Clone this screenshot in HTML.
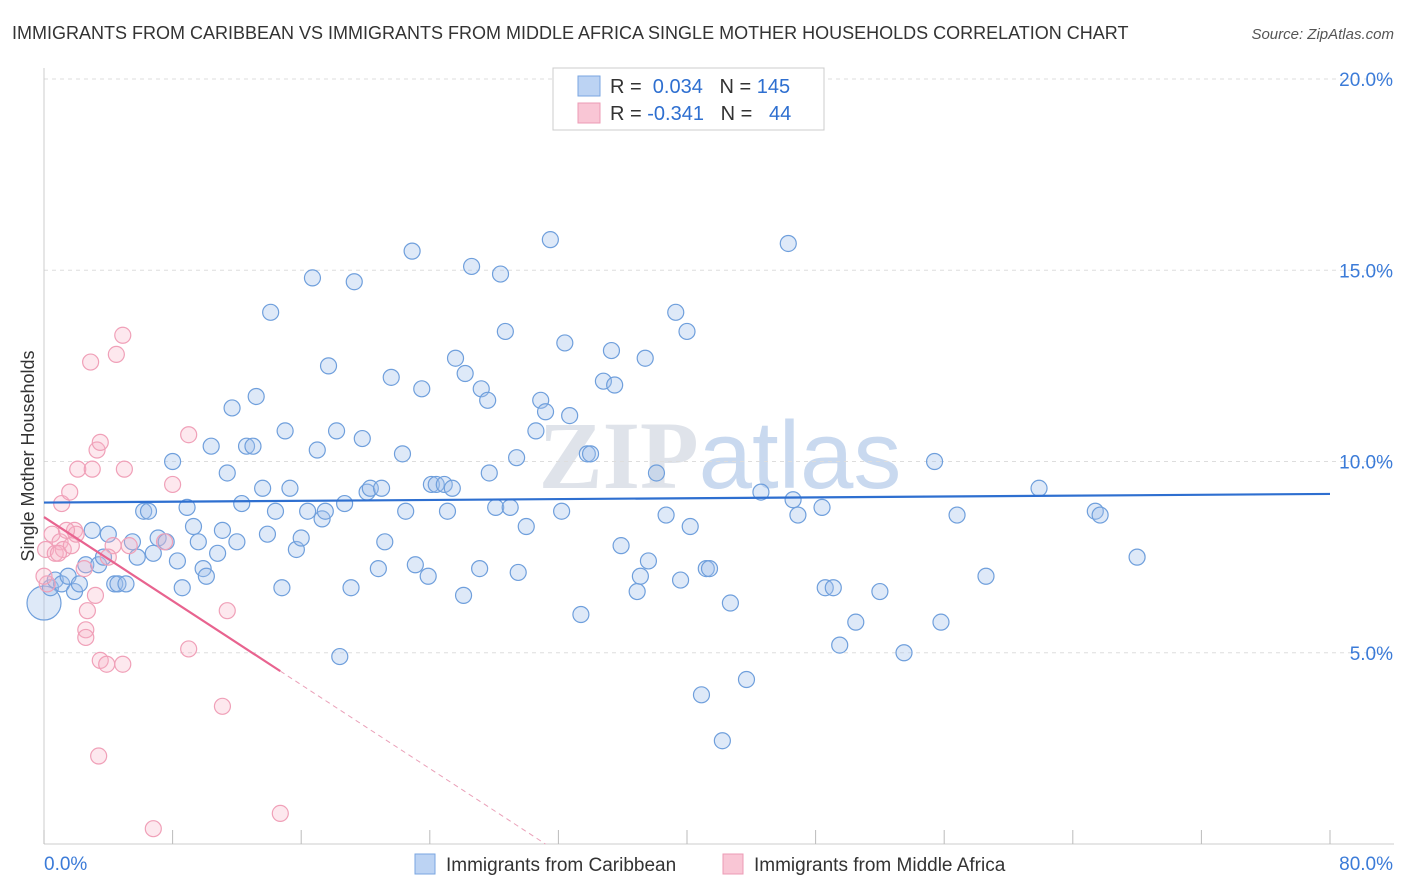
<!DOCTYPE html>
<html><head><meta charset="utf-8">
<style>
body{margin:0;background:#fff;font-family:"Liberation Sans",sans-serif;}
svg{display:block}
</style></head>
<body>
<svg width="1406" height="892" viewBox="0 0 1406 892" xmlns="http://www.w3.org/2000/svg">
<text x="12" y="39" font-size="18" fill="#333">IMMIGRANTS FROM CARIBBEAN VS IMMIGRANTS FROM MIDDLE AFRICA SINGLE MOTHER HOUSEHOLDS CORRELATION CHART</text>
<text x="1394" y="39" font-size="15" fill="#555" font-style="italic" text-anchor="end">Source: ZipAtlas.com</text>
<text x="720" y="488" font-size="96" fill="#dfe3ea" text-anchor="middle" font-family="Liberation Serif,serif" font-weight="bold">ZIP<tspan font-family="Liberation Sans,sans-serif" font-weight="normal" fill="#c9d9ef">atlas</tspan></text>
<g id="grid"></g>
<g id="axes"></g>
<g id="pts"></g>
<g id="lines"></g>
<text transform="translate(34,456) rotate(-90)" font-size="18" fill="#333" text-anchor="middle">Single Mother Households</text>
<g>
<rect x="553" y="68" width="271" height="62" fill="#fff" stroke="#ccc"/>
<rect x="578" y="76" width="22" height="20" fill="#bcd3f3" stroke="#7aa6e0"/>
<rect x="578" y="103" width="22" height="20" fill="#f9c6d5" stroke="#ec9bb5"/>
<text x="610" y="93" font-size="20" fill="#333">R = <tspan fill="#2e6fd0">&#160;0.034</tspan>&#160;&#160;&#160;N = <tspan fill="#2e6fd0">145</tspan></text>
<text x="610" y="120" font-size="20" fill="#333">R = <tspan fill="#2e6fd0">-0.341</tspan>&#160;&#160;&#160;N = <tspan fill="#2e6fd0">&#160;&#160;44</tspan></text>
</g>
<g>
<rect x="415" y="854" width="20" height="20" fill="#bcd3f3" stroke="#7aa6e0"/>
<text x="446" y="871" font-size="19" fill="#333">Immigrants from Caribbean</text>
<rect x="723" y="854" width="20" height="20" fill="#f9c6d5" stroke="#ec9bb5"/>
<text x="754" y="871" font-size="19" fill="#333">Immigrants from Middle Africa</text>
</g>
</svg>
<script>
const blueX=[0,0.4,0.7,1.1,1.5,1.9,2.2,2.6,3.0,3.4,4.0,3.7,4.4,4.6,5.1,5.5,5.8,6.2,6.5,6.8,7.1,7.6,8.0,8.3,8.6,8.9,9.3,9.6,9.9,10.1,10.4,10.8,11.1,11.4,11.7,12.0,12.3,12.6,13.0,13.2,13.6,13.9,14.1,14.4,14.8,15.0,15.3,15.7,16.0,16.4,16.7,17.0,17.3,17.5,17.7,18.2,18.4,18.7,19.1,19.3,19.8,20.1,20.3,20.8,21.0,21.2,21.6,22.3,22.5,22.9,23.1,23.5,23.9,24.1,24.4,24.9,25.1,25.4,25.6,26.1,26.2,26.6,27.1,27.2,27.6,27.7,28.1,28.4,28.7,29.0,29.4,29.5,30.0,30.6,30.9,31.2,31.5,32.2,32.4,32.7,33.4,33.8,34.0,34.8,35.3,35.5,35.9,36.9,37.1,37.4,37.6,38.1,38.7,39.3,39.6,40.0,40.2,40.9,41.2,41.4,42.2,42.7,43.7,44.6,46.3,46.6,46.9,48.4,48.6,49.1,49.5,50.5,52.0,53.5,55.4,55.8,56.8,58.6,61.9,65.4,65.7,68.0];
const blueY=[6.3,6.7,6.9,6.8,7.0,6.6,6.8,7.3,8.2,7.3,8.1,7.5,6.8,6.8,6.8,7.9,7.5,8.7,8.7,7.6,8.0,7.9,10.0,7.4,6.7,8.8,8.3,7.9,7.2,7.0,10.4,7.6,8.2,9.7,11.4,7.9,8.9,10.4,10.4,11.7,9.3,8.1,13.9,8.7,6.7,10.8,9.3,7.7,8.0,8.7,14.8,10.3,8.5,8.7,12.5,10.8,4.9,8.9,6.7,14.7,10.6,9.2,9.3,7.2,9.3,7.9,12.2,10.2,8.7,15.5,7.3,11.9,7.0,9.4,9.4,9.4,8.7,9.3,12.7,6.5,12.3,15.1,7.2,11.9,11.6,9.7,8.8,14.9,13.4,8.8,10.1,7.1,8.3,10.8,11.6,11.3,15.8,8.7,13.1,11.2,6.0,10.2,10.2,12.1,12.9,12.0,7.8,6.6,7.0,12.7,7.4,9.7,8.6,13.9,6.9,13.4,8.3,3.9,7.2,7.2,2.7,6.3,4.3,9.2,15.7,9.0,8.6,8.8,6.7,6.7,5.2,5.8,6.6,5.0,10.0,5.8,8.6,7.0,9.3,8.7,8.6,7.5];
const pinkX=[0.1,0.2,0.5,0.7,1.0,1.1,1.2,1.6,1.7,1.9,2.0,2.1,2.5,2.6,2.6,2.7,2.9,3.0,3.2,3.3,3.5,3.5,3.4,3.9,4.3,4.5,4.9,4.9,5.0,7.5,6.8,8.0,9.0,9.0,11.1,11.4,14.7,5.3,4.0,0.9,1.4,0];
const pinkY=[7.7,6.8,8.1,7.6,7.9,8.9,7.7,9.2,7.8,8.2,8.1,9.8,7.2,5.6,5.4,6.1,12.6,9.8,6.5,10.3,4.8,10.5,2.3,4.7,7.8,12.8,13.3,4.7,9.8,7.9,0.4,9.4,10.7,5.1,3.6,6.1,0.8,7.8,7.5,7.6,8.2,7.0];
const yTicks=[5,10,15,20];
const NS="http://www.w3.org/2000/svg";
const X0=44,X1=1330,Y0=844,PXY=38.25;
function sx(v){return X0+(v/80)*(X1-X0);}
function sy(v){return Y0-v*PXY;}
function mk(t,a,parent){const e=document.createElementNS(NS,t);for(const k in a)e.setAttribute(k,a[k]);parent.appendChild(e);return e;}
const grid=document.getElementById('grid'),axes=document.getElementById('axes'),pts=document.getElementById('pts'),lines=document.getElementById('lines');
yTicks.forEach(t=>{
 const l=mk('line',{x1:X0,x2:1394,y1:sy(t),y2:sy(t),stroke:'#ddd','stroke-dasharray':'4,4'},grid);
 
 
 const tx=mk('text',{x:1393,y:sy(t)+7,'font-size':19,fill:'#3b7bd8','text-anchor':'end'},axes);
 tx.textContent=t.toFixed(1)+'%';
 
 
});
const ya=mk('line',{x1:X0,x2:X0,y1:68,y2:Y0,stroke:'#ccc'},axes);


const xa=mk('line',{x1:X0,x2:1394,y1:Y0,y2:Y0,stroke:'#ccc'},axes);


for(let i=0;i<=10;i++){
 const v=i*8;
 const tk=mk('line',{x1:sx(v),x2:sx(v),y1:Y0,y2:Y0-14,stroke:'#bbb'},axes);
 
 
}
[[0,'0.0%','start',44],[80,'80.0%','end',1393]].forEach(d=>{
 const tx=mk('text',{x:d[3],y:870,'font-size':19,fill:'#3b7bd8','text-anchor':d[2]},axes);
 tx.textContent=d[1];
 
 
});
function draw(xs,ys,fill,stroke,name){
 xs.forEach((x,i)=>{
  const r=(i===0&&name==='caribbean-point')?17:8;
  const c=mk('circle',{cx:sx(x),cy:sy(ys[i]),r:r,fill:fill,stroke:stroke,'stroke-width':1.2},pts);
  
  
 });
}
draw(blueX,blueY,'rgba(160,192,236,0.35)','#6f9fdc','caribbean-point');
draw(pinkX,pinkY,'rgba(248,180,200,0.3)','#f0a0b8','middle-africa-point');
function fit(xs,ys){const n=xs.length;let mx=0,my=0;xs.forEach((x,i)=>{mx+=x;my+=ys[i];});mx/=n;my/=n;let sxy=0,sxx=0;xs.forEach((x,i)=>{sxy+=(x-mx)*(ys[i]-my);sxx+=(x-mx)**2;});const b=sxy/sxx;return [my-b*mx,b];}
const bf=fit(blueX,blueY);
const bl=mk('line',{x1:sx(0),y1:sy(bf[0]),x2:sx(80),y2:sy(bf[0]+bf[1]*80),stroke:'#2e6fd0','stroke-width':2.2},lines);


const pf=fit(pinkX,pinkY);
const pmax=Math.max(...pinkX);
const pl=mk('line',{x1:sx(0),y1:sy(pf[0]),x2:sx(pmax),y2:sy(pf[0]+pf[1]*pmax),stroke:'#e8638f','stroke-width':2.2},lines);


let xe=80;if(pf[1]<0){xe=Math.min(80,-pf[0]/pf[1]);}
const pd=mk('line',{x1:sx(pmax),y1:sy(pf[0]+pf[1]*pmax),x2:sx(xe),y2:sy(pf[0]+pf[1]*xe),stroke:'#eaa0b8','stroke-width':1,'stroke-dasharray':'5,4'},lines);


</script>
</body></html>
